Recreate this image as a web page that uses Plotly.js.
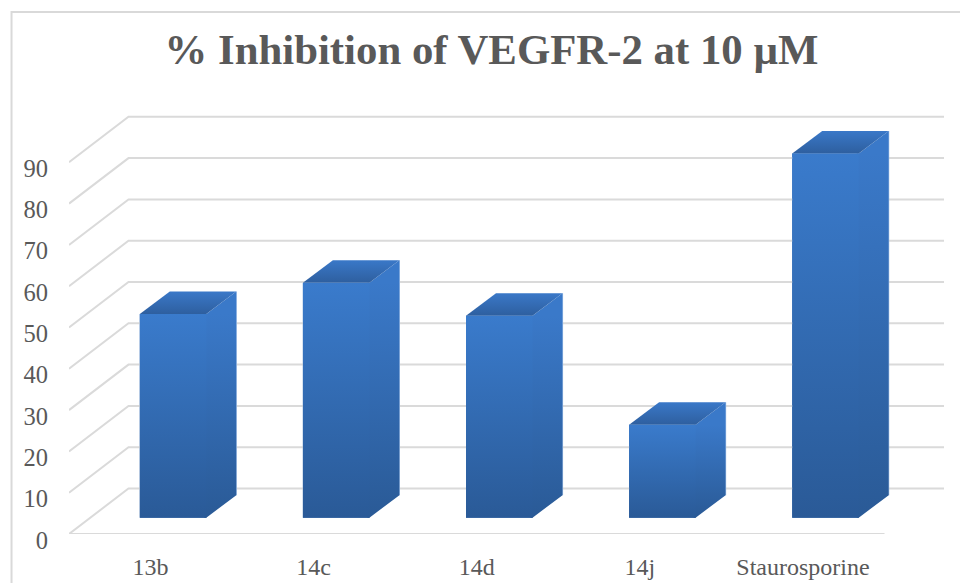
<!DOCTYPE html>
<html>
<head>
<meta charset="utf-8">
<script src="https://cdn.plot.ly/plotly-3.0.1.min.js"></script>
<style>html,body{margin:0;padding:0;background:#fff}#chart{width:960px;height:583px}</style>
</head>
<body>
<div id="chart"></div>
<script>
// Data
var categories = ['13b', '14c', '14d', '14j', 'Staurosporine'];
var inhibition = [49.3, 56.9, 48.9, 22.5, 88.2];
var yTicks = [0, 10, 20, 30, 40, 50, 60, 70, 80, 90];

// 3D projection settings (depth of the floor in axis units)
var PX_PER_CAT = 163.1, PX_PER_UNIT = 4.13;
var floorDX = 59.5 / PX_PER_CAT, floorDY = 45.5 / PX_PER_UNIT;
var barWidth = 66.5 / PX_PER_CAT, barShift = 22.5 / PX_PER_CAT;
var barBase = 16.3 / PX_PER_UNIT, barDX = 30 / PX_PER_CAT, barDY = 22.5 / PX_PER_UNIT;
var seam = 2 / PX_PER_CAT;
var xMin = -0.5, xMax = 4.5 + floorDX;

var frontScale = [[0, '#2a5a97'], [1, '#3a7bcc']];
var sideScale = [[0, '#2a5a96'], [1, '#3a79c9']];
var topScale = [[0, '#2e5f9f'], [1, '#3a78c8']];

var traces = [];

// Walls: one polyline per tick from the front edge to the back wall
var gx = [], gy = [];
yTicks.forEach(function (t) {
  gx.push(xMin, xMin + floorDX, xMax, null);
  gy.push(t, t + floorDY, t + floorDY, null);
});
gx.push(xMin, 4.5, null);
gy.push(0, 0, null);
traces.push({type: 'scatter', mode: 'lines', x: gx, y: gy, hoverinfo: 'skip', showlegend: false,
  line: {color: '#dadada', width: 2}});

// Real bars for the front faces
traces.push({type: 'bar', x: categories.map(function (c, i) { return i + barShift; }),
  y: inhibition.map(function (v) { return v; }), base: barBase, width: barWidth,
  marker: {color: '#3269b0'}, showlegend: false,
  text: categories, hovertemplate: '%{text}: %{y}<extra></extra>', textposition: 'none'});

// Gradient faces
function face(xs, ys, scale, start, stop) {
  return {type: 'scatter', mode: 'none', x: xs, y: ys, fill: 'toself', hoverinfo: 'skip', showlegend: false,
    fillgradient: {type: 'vertical', colorscale: scale, start: start, stop: stop}};
}
inhibition.forEach(function (v, i) {
  var l = i + barShift - barWidth / 2, r = i + barShift + barWidth / 2;
  var b = barBase, t = barBase + v;
  // the edge line, then the side and top, then the front drawn over their seam
  traces.push({type: 'scatter', mode: 'lines', x: [r + barDX, r + barDX], y: [b + barDY, t + barDY],
    hoverinfo: 'skip', showlegend: false, line: {color: '#a9c5ea', width: 1.2}});
  traces.push(face([r - seam, r, r + barDX, r + barDX, r, r - seam, r - seam], [b, b, b + barDY, t + barDY, t, t, b], sideScale, b, t));
  traces.push(face([l, r, r + barDX, l + barDX, l], [t, t, t + barDY, t + barDY, t], topScale, t, t + barDY));
  traces.push(face([l, r, r, l, l], [b, b, t, t, b], frontScale, b, t));
});

var layout = {
  width: 960, height: 583,
  paper_bgcolor: '#fff', plot_bgcolor: 'rgba(0,0,0,0)',
  margin: {l: 68.5, r: 16, t: 100, b: 49, autoexpand: false},
  showlegend: false,
  title: {text: '<b>% Inhibition of VEGFR-2 at 10 µM</b>', x: 491.5 / 960, xanchor: 'center', xref: 'container',
    y: 1 - 49 / 583, yanchor: 'middle', font: {family: '"Liberation Serif", serif', size: 42.8, color: '#595959'}},
  xaxis: {range: [xMin, xMax], tickmode: 'array', tickvals: [0, 1, 2, 3, 4], ticktext: categories,
    showgrid: false, zeroline: false, showline: false, ticks: '', ticklabelstandoff: 16,
    tickfont: {family: '"Liberation Serif", serif', size: 24, color: '#595959'}, fixedrange: true},
  yaxis: {range: [0, 434 / PX_PER_UNIT], tickmode: 'array', tickvals: yTicks,
    showgrid: false, zeroline: false, showline: false, ticks: '', ticklabelstandoff: 20, ticklabelshift: 6,
    tickfont: {family: '"Liberation Serif", serif', size: 24.5, color: '#595959'}, fixedrange: true},
  shapes: [
    {type: 'path', xref: 'paper', yref: 'paper', layer: 'below',
     path: 'M ' + ((11 - 68.5) / 875.5) + ' ' + ((49 - 583) / 434) + ' L ' + ((11 - 68.5) / 875.5) + ' ' + ((583 - 49 - 12) / 434) + ' L ' + ((960 - 68.5) / 875.5) + ' ' + ((583 - 49 - 12) / 434),
     line: {color: '#d9d9d9', width: 2}}
  ]
};
Plotly.newPlot('chart', traces, layout, {displayModeBar: false, staticPlot: true});
</script>
</body>
</html>
